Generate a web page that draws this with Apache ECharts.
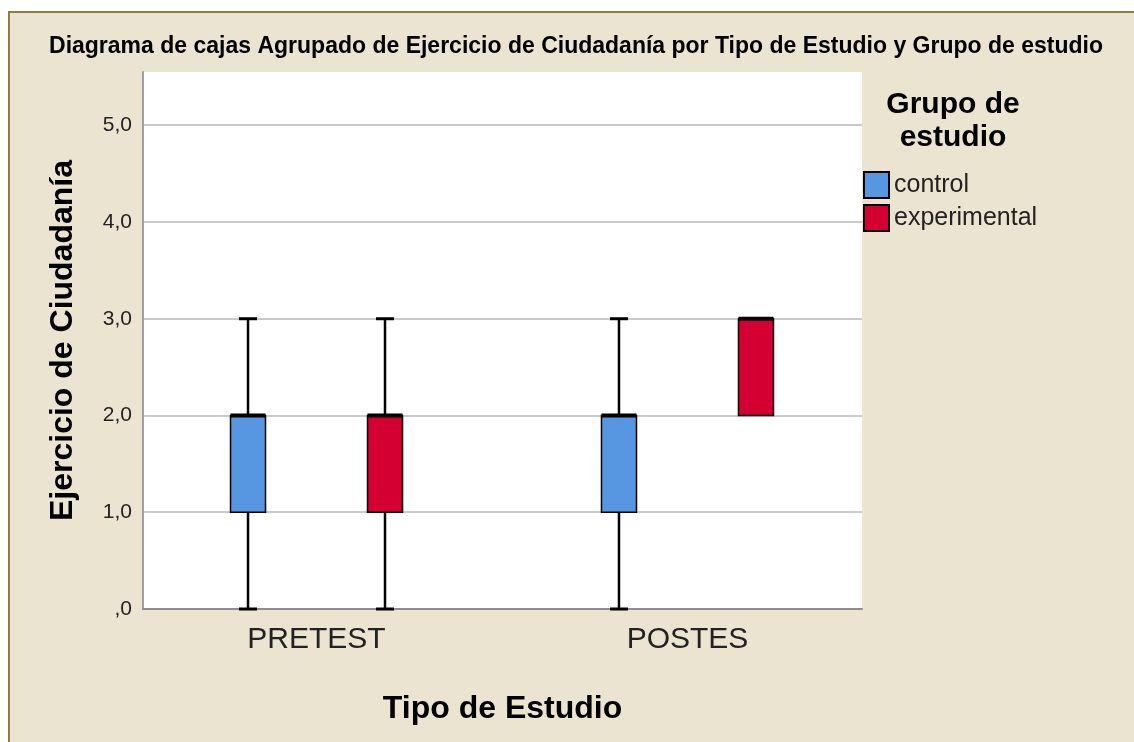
<!DOCTYPE html>
<html>
<head>
<meta charset="utf-8">
<script src="https://cdn.jsdelivr.net/npm/echarts@6/dist/echarts.min.js"></script>
<style>
  html, body { margin: 0; padding: 0; background: #fff; }
  #frame {
    position: absolute; left: 8px; top: 11px; width: 1140px; height: 740px;
    border-left: 2px solid #8e7d3e; border-top: 2px solid #8e7d3e;
    background: #ebe4d0;
  }
  #chart { position: absolute; left: 0; top: 0; width: 1134px; height: 742px; }
</style>
</head>
<body>
<div id="frame"></div>
<div id="chart"></div>
<script>
// categorias del eje X
const categories = ['PRETEST', 'POSTES']
const groups = ['control', 'experimental']
// [indice categoria, min, Q1, mediana, Q3, max]
const controlBox = [
  [0, 0, 1, 2, 2, 3],
  [1, 0, 1, 2, 2, 3]
]
const experimentalBox = [
  [0, 0, 1, 2, 2, 3],
  [1, 2, 2, 3, 3, 3]
]
const yTicks = [0, 1, 2, 3, 4, 5]

const colors = ['#5796e1', '#d50032']
const offsets = [-68.5, 68.5]
const boxW = 35
const capW = 18

function makeRender(offset) {
  return function (params, api) {
    const cx = api.coord([api.value(0), 0])[0] + offset
    const yMin = api.coord([0, api.value(1)])[1]
    const yQ1 = api.coord([0, api.value(2)])[1]
    const yMed = api.coord([0, api.value(3)])[1]
    const yQ3 = api.coord([0, api.value(4)])[1]
    const yMax = api.coord([0, api.value(5)])[1]
    const line = { stroke: '#000', lineWidth: 2.5 }
    const children = []
    if (api.value(1) < api.value(2)) {
      children.push({ type: 'line', shape: { x1: cx, y1: yQ1, x2: cx, y2: yMin }, style: line })
      children.push({ type: 'line', shape: { x1: cx - capW / 2, y1: yMin, x2: cx + capW / 2, y2: yMin }, style: { stroke: '#000', lineWidth: 3 } })
    }
    if (api.value(5) > api.value(4)) {
      children.push({ type: 'line', shape: { x1: cx, y1: yQ3, x2: cx, y2: yMax }, style: line })
      children.push({ type: 'line', shape: { x1: cx - capW / 2, y1: yMax, x2: cx + capW / 2, y2: yMax }, style: { stroke: '#000', lineWidth: 3 } })
    }
    children.push({
      type: 'rect',
      shape: { x: cx - boxW / 2, y: yQ3, width: boxW, height: yQ1 - yQ3 },
      style: { fill: api.visual('color'), stroke: '#000', lineWidth: 1.5 }
    })
    children.push({
      type: 'line',
      shape: { x1: cx - boxW / 2, y1: yMed, x2: cx + boxW / 2, y2: yMed },
      style: { stroke: '#000', lineWidth: 4 }
    })
    return { type: 'group', children: children }
  }
}

const chart = echarts.init(document.getElementById('chart'))
chart.setOption({
  backgroundColor: 'transparent',
  animation: false,
  textStyle: { fontFamily: 'Liberation Sans, Arial, sans-serif' },
  title: {
    text: 'Diagrama de cajas Agrupado de Ejercicio de Ciudadanía por Tipo de Estudio y Grupo de estudio',
    left: 576,
    textAlign: 'center',
    top: 35,
    padding: 0,
    textStyle: { fontSize: 23, fontWeight: 'bold', color: '#000' }
  },
  graphic: [{
    type: 'text',
    x: 953,
    y: 88,
    style: {
      text: 'Grupo de\nestudio',
      align: 'center',
      fontSize: 30,
      fontWeight: 'bold',
      lineHeight: 33,
      fill: '#000',
      fontFamily: 'Liberation Sans, Arial, sans-serif'
    }
  }],
  legend: {
    orient: 'vertical',
    left: 863,
    top: 171,
    padding: 0,
    icon: 'rect',
    itemWidth: 25,
    itemHeight: 26,
    itemGap: 5,
    data: groups,
    textStyle: { fontSize: 25, color: '#222' }
  },
  grid: { left: 143, top: 72, right: 272, bottom: 133, show: true, backgroundColor: '#fff', borderWidth: 0 },
  xAxis: {
    type: 'value',
    min: -0.4677,
    max: 1.4704,
    name: 'Tipo de Estudio',
    nameLocation: 'middle',
    nameGap: 84,
    nameTextStyle: { fontSize: 32, fontWeight: 'bold', color: '#000' },
    axisLine: { show: true, onZero: false, lineStyle: { color: '#8c8c8c', width: 2 } },
    axisTick: { show: false },
    splitLine: { show: false },
    axisLabel: {
      customValues: [0, 1],
      formatter: v => categories[Math.round(v)],
      fontSize: 30,
      color: '#222',
      margin: 16
    }
  },
  yAxis: {
    type: 'value',
    min: 0,
    max: 5.55,
    interval: 1,
    name: 'Ejercicio de Ciudadanía',
    nameLocation: 'middle',
    nameRotate: 90,
    nameGap: 64,
    nameTextStyle: { fontSize: 32, fontWeight: 'bold', color: '#000' },
    axisLine: { show: true, onZero: false, lineStyle: { color: '#a0a0a0', width: 2 } },
    axisTick: { show: false },
    splitLine: { show: true, showMinLine: false, showMaxLine: false, lineStyle: { color: '#cacaca', width: 2 } },
    axisLabel: {
      customValues: yTicks,
      formatter: v => v === 0 ? ',0' : v.toFixed(1).replace('.', ','),
      fontSize: 21,
      color: '#222',
      margin: 11,
      padding: [4, 0, 0, 0]
    }
  },
  series: [
    {
      name: groups[0],
      type: 'custom',
      renderItem: makeRender(offsets[0]),
      itemStyle: { color: colors[0], borderColor: '#000', borderWidth: 2 },
      encode: { x: 0, y: [1, 2, 3, 4, 5] },
      data: controlBox
    },
    {
      name: groups[1],
      type: 'custom',
      renderItem: makeRender(offsets[1]),
      itemStyle: { color: colors[1], borderColor: '#000', borderWidth: 2 },
      encode: { x: 0, y: [1, 2, 3, 4, 5] },
      data: experimentalBox
    }
  ]
})
</script>
</body>
</html>
